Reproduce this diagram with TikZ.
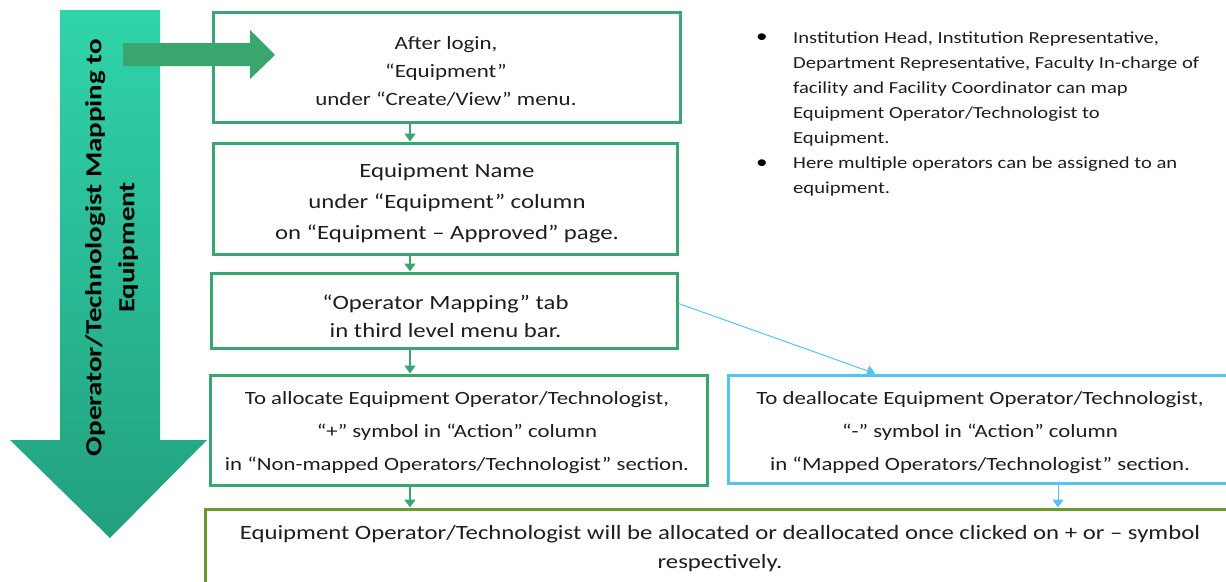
\documentclass[tikz,border=0pt]{standalone}
\usepackage{fontspec}
\setmainfont{Carlito}[FakeStretch=1.22]
\newfontfamily\titlefont{Carlito}[FakeStretch=1.26]
\usetikzlibrary{arrows.meta}
\definecolor{stepgreen}{HTML}{3AA66F}
\definecolor{stepblue}{HTML}{55C2F2}
\definecolor{stepolive}{HTML}{6C9A2C}
\definecolor{flowtop}{HTML}{30D4AA}
\definecolor{flowbottom}{HTML}{22A07E}
\definecolor{inktext}{HTML}{1E1E1E}
\begin{document}
\begin{tikzpicture}[x=1pt,y=-1pt,
    frame/.style={draw=stepgreen, line width=3pt, inner sep=0pt},
    boxtext/.style={align=center, inner sep=0pt, text=inktext},
    notetext/.style={align=left, inner sep=0pt, text=inktext, anchor=west, font=\fontsize{16.9}{25}\selectfont},
    link/.style={draw=stepgreen, line width=1.5pt, -{Triangle[width=11pt,length=8pt]}},
    bluelink/.style={draw=stepblue, line width=1pt, -{Triangle[width=11pt,length=8pt]}}]
  \useasboundingbox (0,0) rectangle (1226,581);
  \clip (0,0) rectangle (1226,581);
  % big process arrow
  \shade[top color=flowtop, bottom color=flowbottom]
    (60,10) -- (160,10) -- (160,440) -- (207,440) -- (110,538) -- (10,440) -- (60,440) -- cycle;
  \node[rotate=90, align=center, inner sep=0pt, font=\titlefont\fontsize{23}{33}\bfseries\selectfont] (title) at (111.5,247.5)
    {Operator/Technologist Mapping to\\Equipment};
  \fill[stepgreen] (123,43) -- (250,43) -- (250,30) -- (275,55) -- (250,79) -- (250,66) -- (123,66) -- cycle;

  % boxes
  \node[frame, minimum width=467, minimum height=110] (login) at (446.5,67) {};
  \node[frame, minimum width=464, minimum height=111] (name) at (445,198.5) {};
  \node[frame, minimum width=466, minimum height=75] (mapping) at (444,310.5) {};
  \node[frame, minimum width=497, minimum height=110] (alloc) at (458.5,430) {};
  \node[frame, draw=stepblue, minimum width=504, minimum height=108] (dealloc) at (980,429) {};
  \node[frame, draw=stepolive, minimum width=1030, minimum height=100] (result) at (720,559) {};

  \node[boxtext, font=\fontsize{18.8}{28}\selectfont] (logintext) at (446,71) {After login,\\“Equipment”\\under “Create/View” menu.};
  \node[boxtext, font=\fontsize{20.3}{31}\selectfont] (nametext) at (447,203) {Equipment Name\\under “Equipment” column\\on “Equipment – Approved” page.};
  \node[boxtext, font=\fontsize{20.3}{28}\selectfont] (mappingtext) at (445.5,316) {“Operator Mapping” tab\\in third level menu bar.};
  \node[boxtext, font=\fontsize{18.7}{33}\selectfont] (alloctext) at (457,433) {To allocate Equipment Operator/Technologist,\\“+” symbol in “Action” column\\in “Non-mapped Operators/Technologist” section.};
  \node[boxtext, font=\fontsize{18.7}{33}\selectfont] (dealloctext) at (980,433) {To deallocate Equipment Operator/Technologist,\\“-” symbol in “Action” column\\in “Mapped Operators/Technologist” section.};
  \node[boxtext, font=\fontsize{20.3}{29}\selectfont] (resulttext) at (720,549) {Equipment Operator/Technologist will be allocated or deallocated once clicked on + or – symbol\\respectively.};

  % notes
  \node[inner sep=0pt, font=\fontsize{19}{25}\selectfont] (dot1) at (762,38) {\textbullet};
  \node[inner sep=0pt, font=\fontsize{19}{25}\selectfont] (dot2) at (762,164) {\textbullet};
  \node[notetext] (note1) at (793,88.5) {Institution Head, Institution Representative,\\Department Representative, Faculty In-charge of\\facility and Facility Coordinator can map\\Equipment Operator/Technologist to\\Equipment.};
  \node[notetext] (note2) at (793,176) {Here multiple operators can be assigned to an\\equipment.};

  % connectors
  \draw[link] (login.south -| 410,0) -- (name.north -| 410,0);
  \draw[link] (name.south -| 410,0) -- (mapping.north -| 410,0);
  \draw[link] (mapping.south -| 410,0) -- (alloc.north -| 410,0);
  \draw[link] (alloc.south -| 410,0) -- (result.north -| 410,0);
  \draw[bluelink] (dealloc.south -| 1058,0) -- (result.north -| 1058,0);
  \draw[bluelink] ([yshift=7pt]mapping.east) -- ([xshift=-105pt]dealloc.north);
\end{tikzpicture}
\end{document}
